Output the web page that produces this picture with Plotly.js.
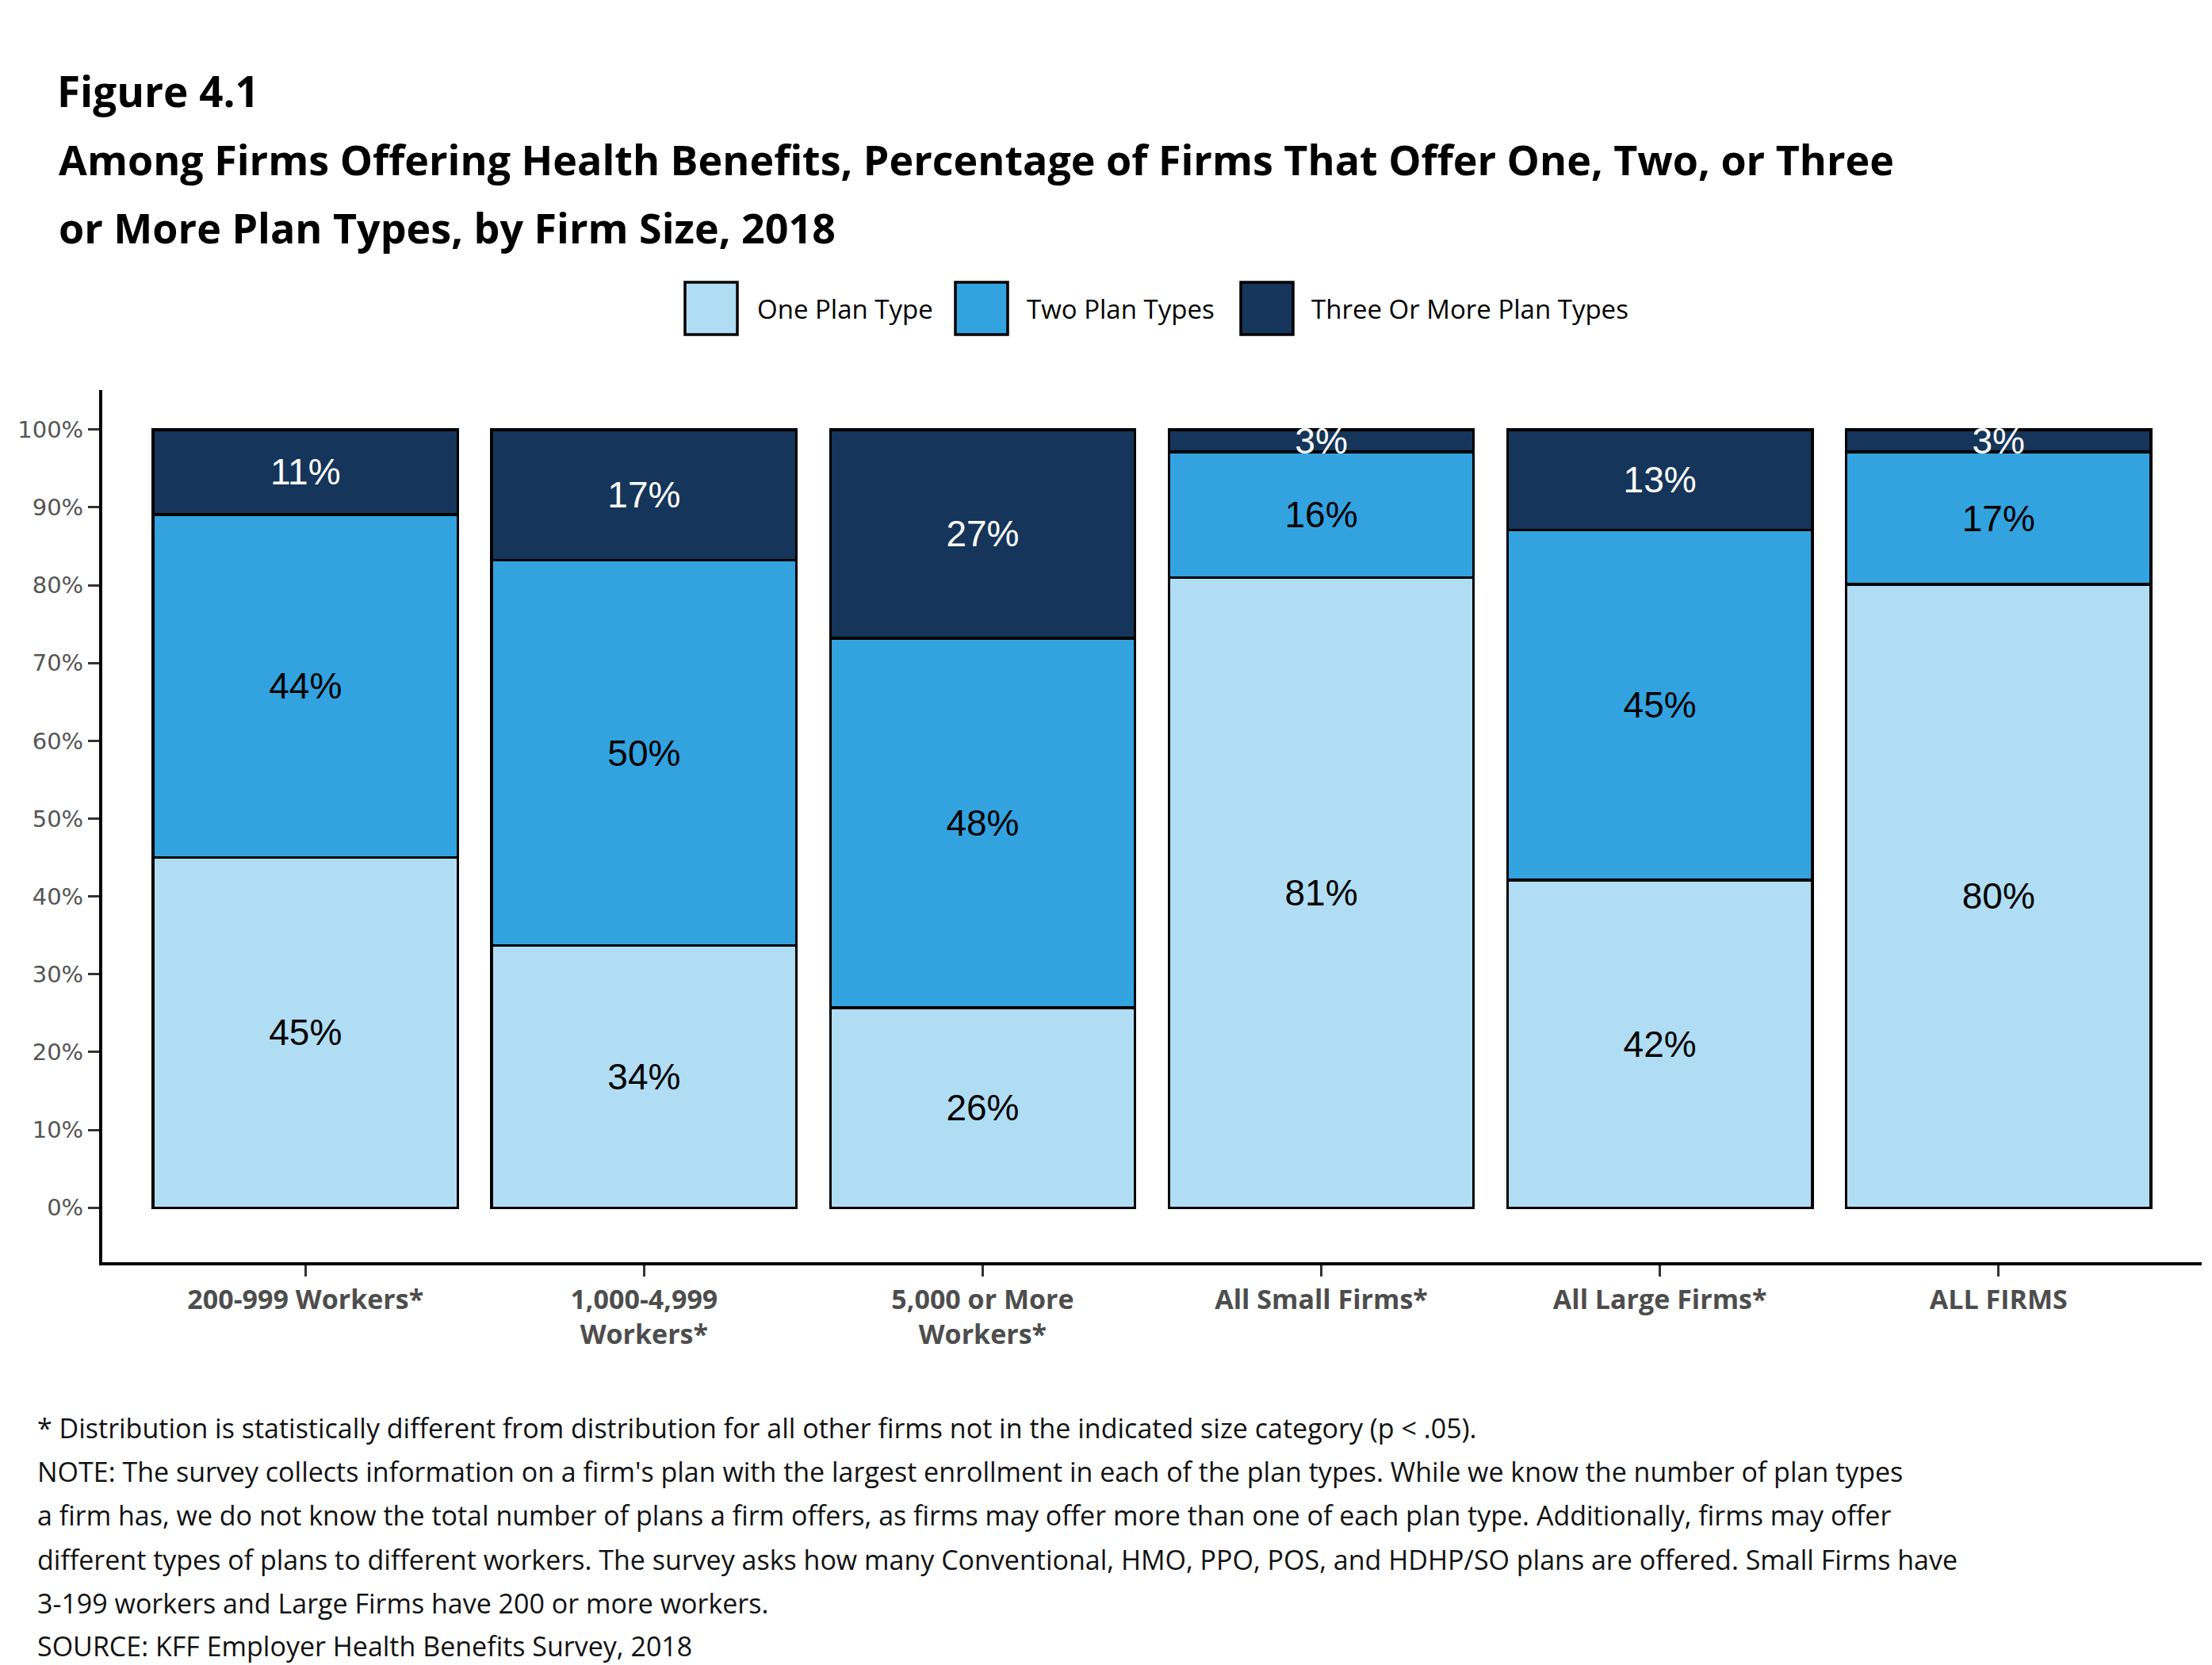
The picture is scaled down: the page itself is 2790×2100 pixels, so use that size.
<!DOCTYPE html>
<html>
<head>
<meta charset="utf-8">
<script src="https://cdn.plot.ly/plotly-3.0.1.min.js"></script>
<style>html,body{margin:0;padding:0;background:#fff;}#chart{width:2790px;height:2100px;}</style>
</head>
<body>
<div id="chart"></div>
<script>
// ---- data ----
var categories = ['200-999 Workers*', '1,000-4,999<br>Workers*', '5,000 or More<br>Workers*', 'All Small Firms*', 'All Large Firms*', 'ALL FIRMS'];
var onePlan = [45.0, 33.7, 25.7, 81.0, 42.1, 80.1];
var twoPlans = [44.1, 49.5, 47.5, 16.1, 45.0, 17.0];
var threePlans = [10.9, 16.8, 26.8, 2.9, 12.9, 2.9];
var seriesNames = ['One Plan Type', 'Two Plan Types', 'Three Or More Plan Types'];
var yTickVals = [0, 10, 20, 30, 40, 50, 60, 70, 80, 90, 100];
var yTickText = ['0%', '10%', '20%', '30%', '40%', '50%', '60%', '70%', '80%', '90%', '100%'];
var footnotes = [
  '* Distribution is statistically different from distribution for all other firms not in the indicated size category (p < .05).',
  "NOTE: The survey collects information on a firm's plan with the largest enrollment in each of the plan types. While we know the number of plan types",
  'a firm has, we do not know the total number of plans a firm offers, as firms may offer more than one of each plan type. Additionally, firms may offer',
  'different types of plans to different workers. The survey asks how many Conventional, HMO, PPO, POS, and HDHP/SO plans are offered. Small Firms have',
  '3-199 workers and Large Firms have 200 or more workers.',
  'SOURCE: KFF Employer Health Benefits Survey, 2018'
];

// ---- styles ----
var colors = ['#b0ddf3', '#33a3e0', '#15355a'];
var textColors = ['#000000', '#000000', '#ffffff'];
var seriesValues = [onePlan, twoPlans, threePlans];

var W = 2790, H = 2100;
var M = {l: 129, r: 13, t: 492, b: 508};
var pw = W - M.l - M.r, ph = H - M.t - M.b;
function px(x) { return (x - M.l) / pw; }
function py(y) { return (H - M.b - y) / ph; }

var traces = seriesValues.map(function (vals, i) {
  return {
    type: 'bar',
    name: seriesNames[i],
    x: categories,
    y: vals,
    text: vals.map(function (v) { return Math.round(v) + '%'; }),
    textposition: 'inside',
    insidetextanchor: 'middle',
    constraintext: 'none',
    textangle: 0,
    textfont: {family: 'Liberation Sans, Arial, sans-serif', size: 46, color: textColors[i]},
    marker: {color: colors[i], line: {color: '#000000', width: 3.5}},
    hoverinfo: 'skip',
    showlegend: false
  };
});

var shapes = [];
var annotations = [];

// custom legend
var legBoxX = [864, 1205, 1565];
var legTextX = [953, 1293, 1652];
seriesNames.forEach(function (n, i) {
  shapes.push({type: 'rect', xref: 'paper', yref: 'paper',
    x0: px(legBoxX[i]), x1: px(legBoxX[i] + 66), y0: py(422), y1: py(356),
    fillcolor: colors[i], line: {color: '#000000', width: 3.5}});
  annotations.push({xref: 'paper', yref: 'paper', x: px(legTextX[i]), y: py(390),
    xanchor: 'left', yanchor: 'middle', showarrow: false, text: n,
    font: {family: 'Open Sans, sans-serif', size: 33, color: '#000000'}});
});

// subtitle lines
var titleLines = ['Among Firms Offering Health Benefits, Percentage of Firms That Offer One, Two, or Three', 'or More Plan Types, by Firm Size, 2018'];
var titleY = [200, 286];
titleLines.forEach(function (t, i) {
  annotations.push({xref: 'paper', yref: 'paper', x: px(72), y: py(titleY[i]),
    xanchor: 'left', yanchor: 'middle', showarrow: false, text: '<b>' + t + '</b>',
    font: {family: 'Open Sans, sans-serif', size: 52, color: '#000000'}});
});

// footnotes
var footY = [1801, 1856, 1911, 1967, 2022, 2076];
footnotes.forEach(function (t, i) {
  annotations.push({xref: 'paper', yref: 'paper', x: px(45), y: py(footY[i]),
    xanchor: 'left', yanchor: 'middle', showarrow: false, text: t,
    font: {family: 'Open Sans, sans-serif', size: 34, color: '#111111'}});
});

var layout = {
  width: W, height: H,
  margin: M,
  paper_bgcolor: '#ffffff', plot_bgcolor: '#ffffff',
  barmode: 'stack', bargap: 0.1,
  title: {text: '<b>Figure 4.1</b>', x: 72 / W, xanchor: 'left', xref: 'container',
    y: 1 - 116 / H, yanchor: 'middle', yref: 'container',
    font: {family: 'Open Sans, sans-serif', size: 53, color: '#000000'}},
  xaxis: {type: 'category', range: [-0.6, 5.6], showline: true, linecolor: '#000000', linewidth: 4,
    ticks: 'outside', ticklen: 14, tickwidth: 3, tickcolor: '#333333', showgrid: false, zeroline: false,
    tickfont: {family: 'Open Sans, sans-serif', size: 34, color: '#4d4d4d', weight: 'bold'}},
  yaxis: {range: [-7, 105.07], tickmode: 'array', tickvals: yTickVals, ticktext: yTickText,
    showline: true, linecolor: '#000000', linewidth: 4, ticks: 'outside', ticklen: 14, tickwidth: 3,
    tickcolor: '#333333', showgrid: false, zeroline: false,
    tickfont: {family: 'DejaVu Sans, sans-serif', size: 29, color: '#555555'}},
  shapes: shapes,
  annotations: annotations,
  showlegend: false
};

Plotly.newPlot('chart', traces, layout, {displayModeBar: false, staticPlot: true});
</script>
</body>
</html>
